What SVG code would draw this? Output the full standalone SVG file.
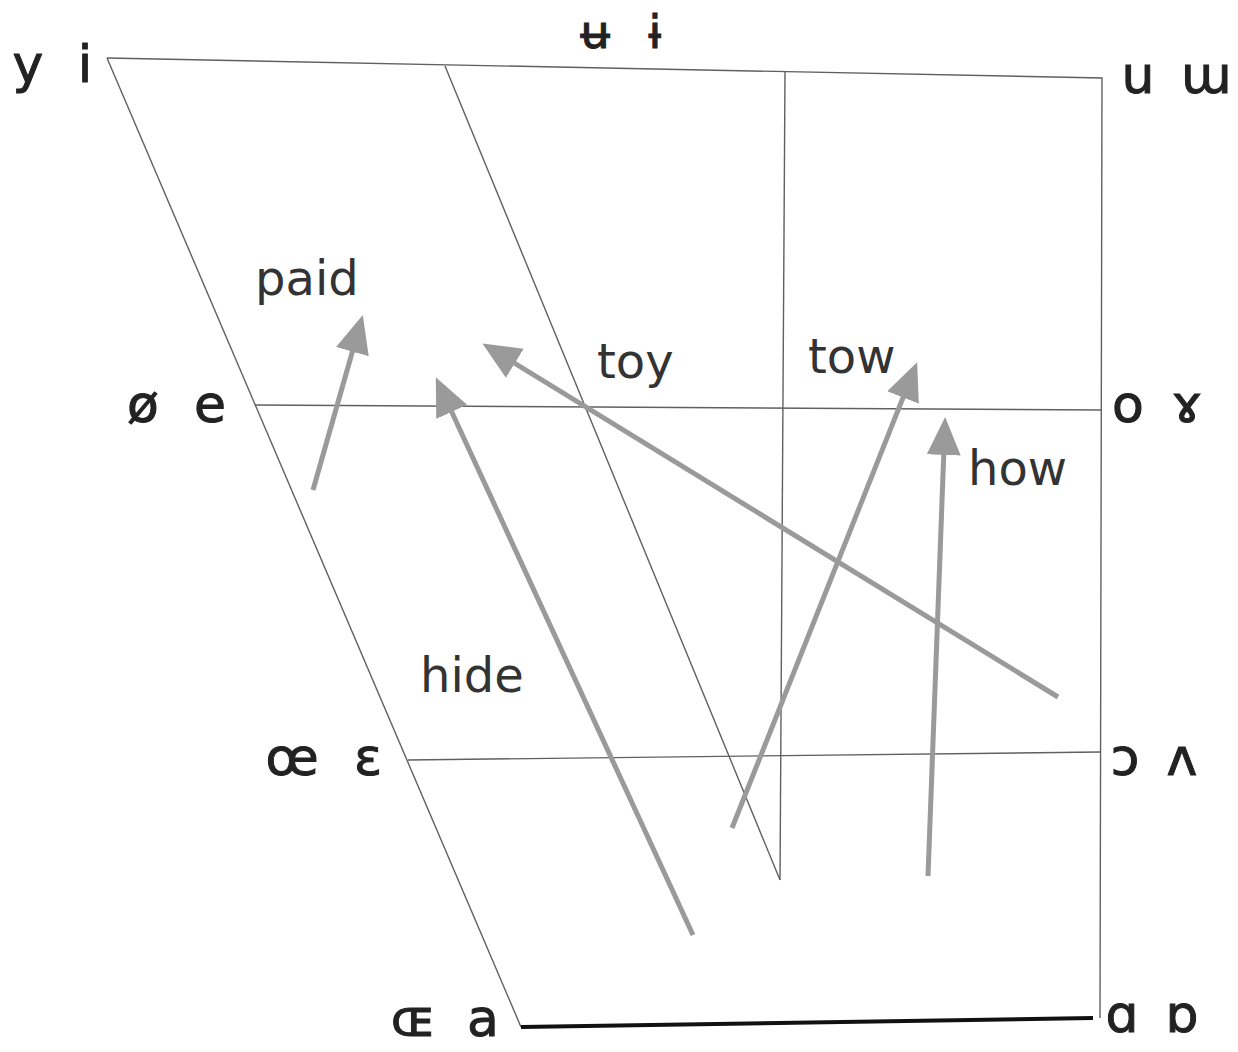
<svg xmlns="http://www.w3.org/2000/svg" width="1238" height="1052" viewBox="0 0 1238 1052">
<style>
.grid{stroke:#606060;stroke-width:1.4;fill:none}
.arr{stroke:#9a9a9a;stroke-width:5;fill:none;marker-end:url(#ah)}
.ipa{font-family:"DejaVu Sans","Liberation Sans",sans-serif;font-size:52px;fill:#222;stroke:#222;stroke-width:1;text-anchor:middle}
.ipa2{font-family:"DejaVu Sans","Liberation Sans",sans-serif;font-size:46px;fill:#222;stroke:#222;stroke-width:1;text-anchor:middle}
.word{font-family:"DejaVu Sans","Liberation Sans",sans-serif;font-size:48px;fill:#333}
</style>
<defs>
<marker id="ah" markerUnits="userSpaceOnUse" markerWidth="42" markerHeight="38" refX="15" refY="18" orient="auto" viewBox="0 0 42 38">
<path d="M0,1 L38,18 L0,35 z" fill="#9a9a9a"/>
</marker>
</defs>
<rect width="1238" height="1052" fill="#fff"/>
<g id="connectors">
<polyline class="grid" points="107,58 1102,78 1100,1018"/>
<line class="grid" x1="107" y1="58" x2="521" y2="1027"/>
<line x1="521" y1="1027" x2="1093" y2="1018" stroke="#111" stroke-width="4"/>
<line class="grid" x1="445" y1="66" x2="780" y2="880"/>
<line class="grid" x1="785" y1="72" x2="780" y2="880"/>
<line class="grid" x1="255" y1="405" x2="1101" y2="410"/>
<line class="grid" x1="408" y1="760" x2="1100" y2="752" stroke="#888"/>
<line class="arr" x1="313" y1="490" x2="356.5" y2="337.2"/>
<line class="arr" x1="693" y1="935" x2="445.4" y2="398.2"/>
<line class="arr" x1="1058" y1="697" x2="502" y2="355.5"/>
<line class="arr" x1="732" y1="828" x2="908.6" y2="383.6"/>
<line class="arr" x1="928" y1="876" x2="944.3" y2="440"/>
</g>
<g id="labels-top-left"><text class="ipa" x="28" y="82">y</text><text class="ipa" x="85" y="82">i</text></g>
<g id="labels-top-center"><text class="ipa2" x="595" y="48">ʉ</text><text class="ipa2" x="655" y="48">ɨ</text></g>
<g id="labels-top-right"><text class="ipa" x="1138" y="93">u</text><text class="ipa" x="1206" y="93">ɯ</text></g>
<g id="labels-mid-left"><text class="ipa" x="143" y="422">ø</text><text class="ipa" x="210" y="422">e</text></g>
<g id="labels-mid-right"><text class="ipa" x="1128" y="422">o</text><text class="ipa" x="1187" y="422">ɤ</text></g>
<g id="labels-low-left"><text class="ipa" x="292" y="775">œ</text><text class="ipa" x="368" y="775">ɛ</text></g>
<g id="labels-low-right"><text class="ipa" x="1125" y="775">ɔ</text><text class="ipa" x="1182" y="775">ʌ</text></g>
<g id="labels-bottom-left"><text class="ipa" x="413" y="1036">ɶ</text><text class="ipa" x="483" y="1036">a</text></g>
<g id="labels-bottom-right"><text class="ipa" x="1122" y="1032">ɑ</text><text class="ipa" x="1182" y="1032">ɒ</text></g>
<g id="word-paid"><text class="word" x="255" y="295">paid</text></g>
<g id="word-toy"><text class="word" x="597" y="378">toy</text></g>
<g id="word-tow"><text class="word" x="808" y="373">tow</text></g>
<g id="word-how"><text class="word" x="968" y="485">how</text></g>
<g id="word-hide"><text class="word" x="420" y="692">hide</text></g>
</svg>
